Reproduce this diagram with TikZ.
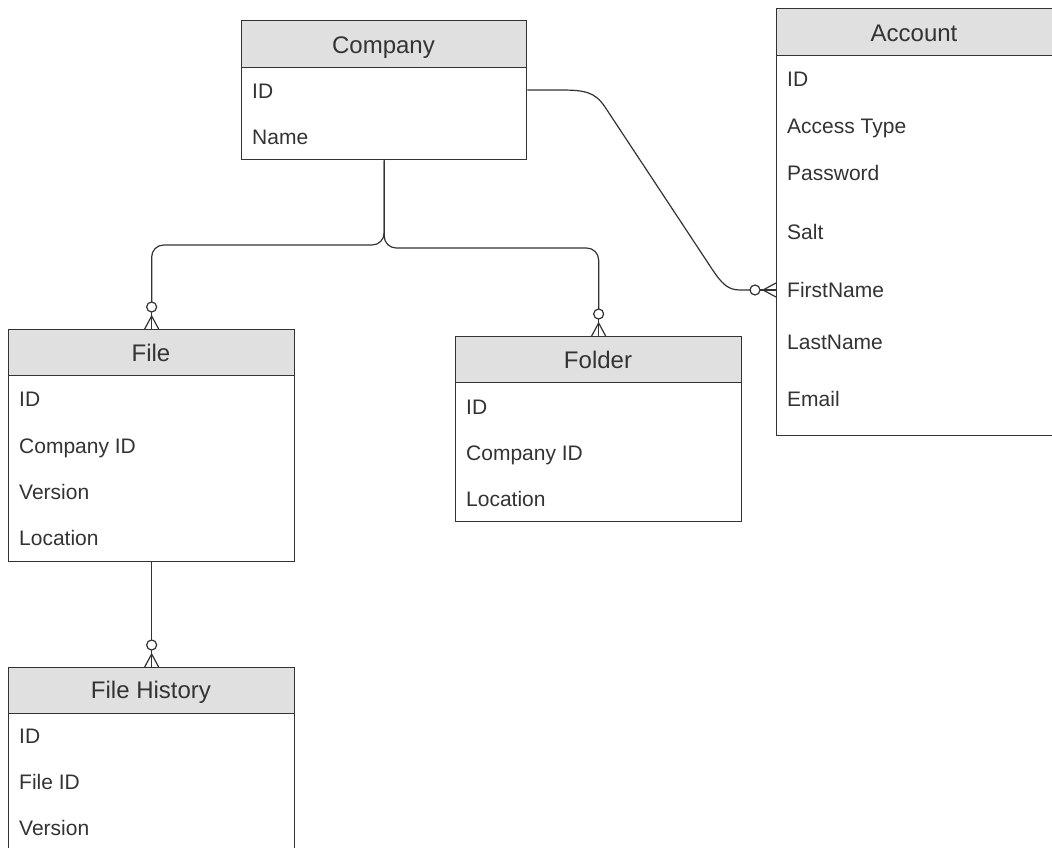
\documentclass[tikz,border=0pt]{standalone}
\usepackage{fontspec}
\setmainfont{Liberation Sans}
\usetikzlibrary{calc}
\definecolor{ink}{HTML}{333333}
\definecolor{hdrfill}{HTML}{E0E0E0}
\definecolor{txt}{HTML}{333333}
\tikzset{
 hdr/.style={draw=ink, fill=hdrfill, line width=1.3pt, rectangle, anchor=north west, inner sep=0pt},
 bodybox/.style={draw=ink, fill=white, line width=1.3pt, rectangle, anchor=north west, inner sep=0pt},
 title/.style={anchor=base, text=txt, font=\fontsize{24}{28}\selectfont, inner sep=0pt},
 attr/.style={anchor=base west, text=txt, font=\fontsize{21}{25}\selectfont, inner sep=0pt},
 conn/.style={draw=ink, line width=1.2pt},
}
\newcommand\footup[1]{%
 \draw[conn] ($(#1)+(-7,0)$) -- ($(#1)+(0,-13)$) -- ($(#1)+(7,0)$);
 \draw[conn] (#1) -- ($(#1)+(0,-17)$);
 \draw[conn, fill=white] ($(#1)+(0,-22)$) circle[radius=5pt];
}
\newcommand\footleft[1]{%
 \draw[conn] ($(#1)+(0,-7)$) -- ($(#1)+(-13,0)$) -- ($(#1)+(0,7)$);
 \draw[conn] (#1) -- ($(#1)+(-17,0)$);
 \draw[conn, fill=white] ($(#1)+(-21,0)$) circle[radius=5pt];
}
\begin{document}
\begin{tikzpicture}[x=1pt,y=-1pt]
\useasboundingbox (0,0) rectangle (1052,848);
\clip (0,0) rectangle (1052,848);

% Company
\node[bodybox, minimum width=285pt, minimum height=92pt] (companyb) at (241,67) {};
\node[hdr, minimum width=285pt, minimum height=47pt] (companyh) at (241,20) {};
\node[title] (companyt) at (383.5,53.6) {Company};
\node[attr] (company1) at (252,98.5) {ID};
\node[attr] (company2) at (252,144.5) {Name};

% Account
\node[bodybox, minimum width=300pt, minimum height=380pt] (accb) at (776,55) {};
\node[hdr, minimum width=300pt, minimum height=47pt] (acch) at (776,8) {};
\node[title] (acct) at (914,41.3) {Account};
\node[attr] (acc1) at (787,86.5) {ID};
\node[attr] (acc2) at (787,134) {Access Type};
\node[attr] (acc3) at (787,180.5) {Password};
\node[attr] (acc4) at (787,239.5) {Salt};
\node[attr] (acc5) at (787,297.5) {FirstName};
\node[attr] (acc6) at (787,349) {LastName};
\node[attr] (acc7) at (787,406) {Email};

% File
\node[bodybox, minimum width=286pt, minimum height=186pt] (fileb) at (8,375) {};
\node[hdr, minimum width=286pt, minimum height=46pt] (fileh) at (8,329) {};
\node[title] (filet) at (151,361.6) {File};
\node[attr] (file1) at (19,406.5) {ID};
\node[attr] (file2) at (19,453) {Company ID};
\node[attr] (file3) at (19,499.5) {Version};
\node[attr] (file4) at (19,545.5) {Location};

% Folder
\node[bodybox, minimum width=286pt, minimum height=139pt] (folderb) at (455,382) {};
\node[hdr, minimum width=286pt, minimum height=46pt] (folderh) at (455,336) {};
\node[title] (foldert) at (598,368.6) {Folder};
\node[attr] (folder1) at (466,414.5) {ID};
\node[attr] (folder2) at (466,460) {Company ID};
\node[attr] (folder3) at (466,506.5) {Location};

% File History
\node[bodybox, minimum width=286pt, minimum height=160pt] (histb) at (8,713) {};
\node[hdr, minimum width=286pt, minimum height=46pt] (histh) at (8,667) {};
\node[title] (histt) at (151,698.6) {File History};
\node[attr] (hist1) at (19,743.5) {ID};
\node[attr] (hist2) at (19,789.5) {File ID};
\node[attr] (hist3) at (19,835.5) {Version};

% connectors
\coordinate (cstart) at ($(companyb.north east)+(0,23)$);
\coordinate (afoot) at ($(accb.north west)+(0,235)$);

\draw[conn, rounded corners=12pt] (companyb.south) |- ($(fileh.north)+(0,-84)$) -- ($(fileh.north)+(0,-27)$);
\draw[conn, rounded corners=12pt] (companyb.south) |- ($(folderh.north)+(0,-88)$) -- ($(folderh.north)+(0,-27)$);
\draw[conn] (fileb.south) -- ($(histh.north)+(0,-27)$);
\draw[conn] (cstart) -- (560,90) .. controls (585,90) and (595,92) .. (605,107) -- (712,269) .. controls (722,284) and (728,290) .. (740,290) -- ($(afoot)+(-26,0)$);

\footup{fileh.north}
\footup{folderh.north}
\footup{histh.north}
\footleft{afoot}
\end{tikzpicture}
\end{document}
